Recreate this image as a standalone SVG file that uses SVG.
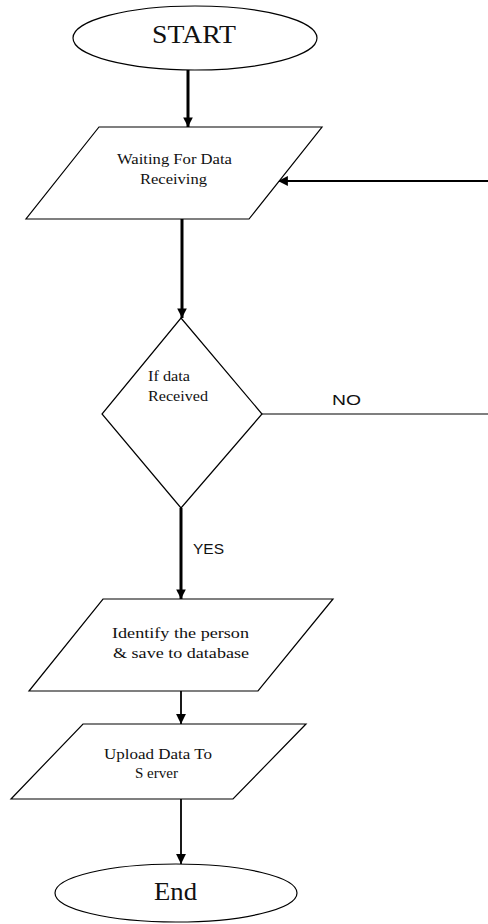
<svg xmlns="http://www.w3.org/2000/svg" width="488" height="924" viewBox="0 0 488 924">
<style>
.shape{fill:#fff;stroke:#000;stroke-width:1.2}
.serif{font-family:"Liberation Serif","Times New Roman",serif;fill:#111}
.sans{font-family:"Liberation Sans",Arial,sans-serif;fill:#111;font-size:15px}
.thick{stroke:#000;stroke-width:3;fill:none}
.mid{stroke:#000;stroke-width:1.8;fill:none}
.thin{stroke:#000;stroke-width:1.2;fill:none}
</style>
<defs>
<marker id="ah" viewBox="0 0 10 10" refX="10" refY="5" markerWidth="3.2" markerHeight="3.2" orient="auto" markerUnits="strokeWidth">
<path d="M0,0 L10,5 L0,10 z" fill="#000"/>
</marker>
<marker id="ahs" viewBox="0 0 10 10" refX="10" refY="5" markerWidth="5.5" markerHeight="5.5" orient="auto" markerUnits="strokeWidth">
<path d="M0,0 L10,5 L0,10 z" fill="#000"/>
</marker>
</defs>
<rect width="488" height="924" fill="#fff"/>
<g id="connectors">
<line class="thick" x1="188" y1="70" x2="188" y2="127" marker-end="url(#ah)"/>
<line class="mid" x1="488" y1="181" x2="278" y2="181" marker-end="url(#ahs)"/>
<line class="thick" x1="182" y1="219" x2="182" y2="318" marker-end="url(#ah)"/>
<line class="thin" x1="262" y1="414" x2="488" y2="414"/>
<text class="sans" x="332" y="405" font-size="16" textLength="29" lengthAdjust="spacingAndGlyphs">NO</text>
<line class="thick" x1="181" y1="508" x2="181" y2="599" marker-end="url(#ah)"/>
<text class="sans" x="193" y="554" textLength="31" lengthAdjust="spacingAndGlyphs">YES</text>
<line class="mid" x1="181" y1="691" x2="181" y2="724" marker-end="url(#ahs)"/>
<line class="mid" x1="181" y1="799" x2="181" y2="864" marker-end="url(#ahs)"/>
</g>
<g id="start">
<ellipse class="shape" cx="195" cy="38" rx="122" ry="32"/>
<text class="serif" x="152" y="43" font-size="25" textLength="84" lengthAdjust="spacingAndGlyphs">START</text>
</g>
<g id="waiting">
<polygon class="shape" points="99,127 322,127 249,219 26,219"/>
<text class="serif" x="117" y="164" font-size="14.5" textLength="115" lengthAdjust="spacingAndGlyphs">Waiting For Data</text>
<text class="serif" x="140" y="184" font-size="14.5" textLength="67" lengthAdjust="spacingAndGlyphs">Receiving</text>
</g>
<g id="decision">
<polygon class="shape" points="181,318 262,414 181,508 102,414"/>
<text class="serif" x="148" y="381" font-size="14" textLength="42" lengthAdjust="spacingAndGlyphs">If data</text>
<text class="serif" x="148" y="401" font-size="14" textLength="60" lengthAdjust="spacingAndGlyphs">Received</text>
</g>
<g id="identify">
<polygon class="shape" points="103,599 333,599 258,691 29,691"/>
<text class="serif" x="112" y="638" font-size="15.5" textLength="137" lengthAdjust="spacingAndGlyphs">Identify the person</text>
<text class="serif" x="113" y="658" font-size="15.5" textLength="136" lengthAdjust="spacingAndGlyphs">&amp; save to database</text>
</g>
<g id="upload">
<polygon class="shape" points="83,724 306,724 233,799 11,799"/>
<text class="serif" x="104" y="759" font-size="14" textLength="108" lengthAdjust="spacingAndGlyphs">Upload Data To</text>
<text class="serif" x="135" y="778" font-size="14" textLength="43" lengthAdjust="spacingAndGlyphs">S erver</text>
</g>
<g id="end">
<ellipse class="shape" cx="176" cy="893" rx="121" ry="29"/>
<text class="serif" x="154" y="900" font-size="25" textLength="43" lengthAdjust="spacingAndGlyphs">End</text>
</g>
</svg>
